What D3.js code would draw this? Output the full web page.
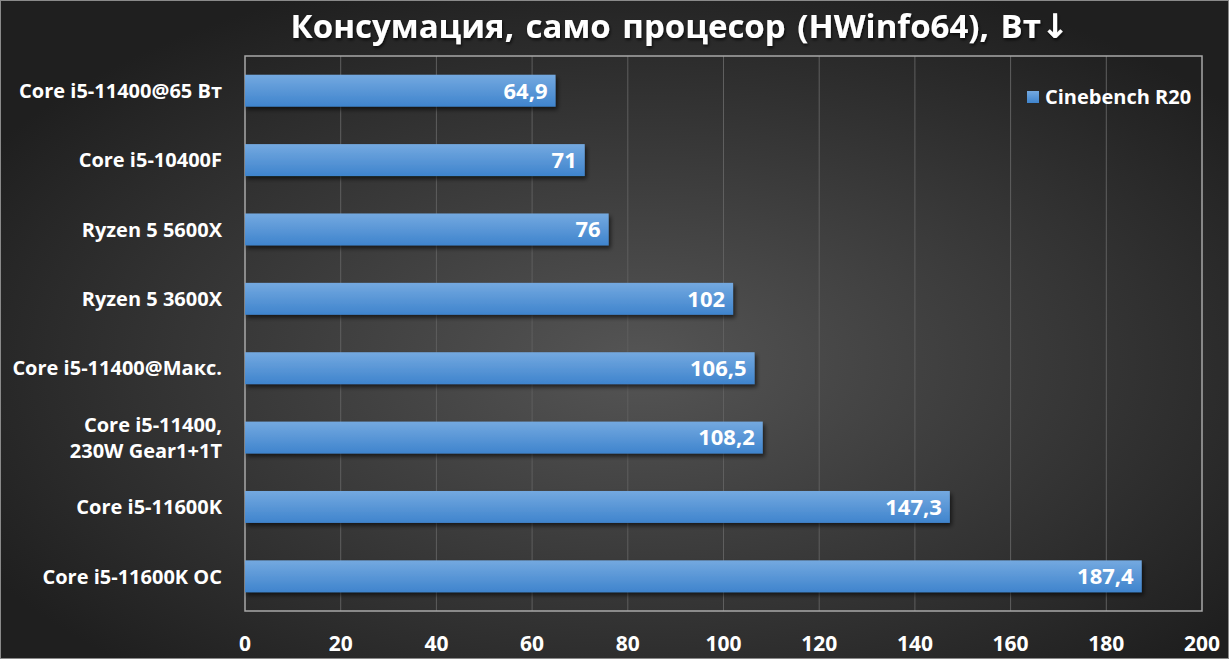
<!DOCTYPE html>
<html>
<head>
<meta charset="utf-8">
<script src="https://cdn.jsdelivr.net/npm/d3@7"></script>
<style>
  html, body { margin: 0; padding: 0; background: #2a2a2a; }
  text { font-family: "Open Sans", "Noto Sans", sans-serif; font-weight: 700; fill: #fff; }
</style>
</head>
<body>
<div id="chart"></div>
<script>
  // data
  const categories = [
    "Core i5-11400@65 Вт",
    "Core i5-10400F",
    "Ryzen 5 5600X",
    "Ryzen 5 3600X",
    "Core i5-11400@Макс.",
    "Core i5-11400,\n230W Gear1+1T",
    "Core i5-11600K",
    "Core i5-11600K OC"
  ];
  const values = [64.9, 71, 76, 102, 106.5, 108.2, 147.3, 187.4];
  const valueLabels = ["64,9", "71", "76", "102", "106,5", "108,2", "147,3", "187,4"];
  const xTicks = [0, 20, 40, 60, 80, 100, 120, 140, 160, 180, 200];
  const seriesName = "Cinebench R20";
  const title = "Консумация, само процесор (HWinfo64), Вт";

  const W = 1229, H = 659;
  const margin = {top: 56, right: 27, bottom: 48, left: 245},
      width = W - margin.left - margin.right,
      height = H - margin.top - margin.bottom;

  const svg = d3.select("#chart")
    .append("svg")
      .attr("width", W)
      .attr("height", H);

  const defs = svg.append("defs");

  // background: dark with lighter middle
  const bg = defs.append("radialGradient")
    .attr("id", "bg").attr("cx", "52%").attr("cy", "55%").attr("r", "62%");
  bg.append("stop").attr("offset", "0%").attr("stop-color", "#555555");
  bg.append("stop").attr("offset", "100%").attr("stop-color", "#1f1f1f");

  const barGrad = defs.append("linearGradient")
    .attr("id", "barGrad").attr("x1", 0).attr("y1", 0).attr("x2", 0).attr("y2", 1);
  barGrad.append("stop").attr("offset", "0%").attr("stop-color", "#74a9e0");
  barGrad.append("stop").attr("offset", "100%").attr("stop-color", "#3f84cd");

  const shadow = defs.append("filter").attr("id", "shadow")
    .attr("x", "-5%").attr("y", "-30%").attr("width", "115%").attr("height", "170%");
  shadow.append("feDropShadow")
    .attr("dx", 2).attr("dy", 3).attr("stdDeviation", 2)
    .attr("flood-color", "#000").attr("flood-opacity", 0.6);

  const tshadow = defs.append("filter").attr("id", "tshadow");
  tshadow.append("feDropShadow")
    .attr("dx", 1).attr("dy", 2).attr("stdDeviation", 1.5)
    .attr("flood-color", "#000").attr("flood-opacity", 0.7);

  svg.append("rect")
    .attr("width", W).attr("height", H)
    .attr("fill", "url(#bg)");
  svg.append("rect")
    .attr("x", 0.5).attr("y", 0.5).attr("width", W - 1).attr("height", H - 1)
    .attr("fill", "none").attr("stroke", "#8a8a8a").attr("stroke-width", 1);

  const g = svg.append("g")
    .attr("transform", `translate(${margin.left}, ${margin.top})`);

  const x = d3.scaleLinear()
    .domain([0, 200])
    .range([0, width]);

  const y = d3.scaleBand()
    .domain(categories)
    .range([0, height])
    .paddingInner(0.54)
    .paddingOuter(0.27);

  // gridlines
  g.selectAll(".grid")
    .data(xTicks.slice(1, -1))
    .join("line")
      .attr("x1", d => x(d)).attr("x2", d => x(d))
      .attr("y1", 0).attr("y2", height)
      .attr("stroke", "#5f5f5f").attr("stroke-width", 1);

  // plot frame
  g.append("rect")
    .attr("x", 0).attr("y", 0).attr("width", width).attr("height", height)
    .attr("fill", "none").attr("stroke", "#a8a8a8").attr("stroke-width", 1.5);

  // bars
  g.selectAll(".bar")
    .data(values)
    .join("rect")
      .attr("x", 0)
      .attr("y", (d, i) => y(categories[i]))
      .attr("width", d => x(d))
      .attr("height", y.bandwidth())
      .attr("fill", "url(#barGrad)")
      .attr("filter", "url(#shadow)");

  // value labels
  g.selectAll(".val")
    .data(values)
    .join("text")
      .attr("x", d => x(d) - 8)
      .attr("y", (d, i) => y(categories[i]) + y.bandwidth() / 2)
      .attr("dy", "0.36em")
      .attr("text-anchor", "end")
      .attr("font-size", 22)
      .text((d, i) => valueLabels[i]);

  // category labels
  const yAxis = g.append("g");
  categories.forEach(c => {
    const lines = c.split("\n");
    const cy = y(c) + y.bandwidth() / 2;
    const t = yAxis.append("text")
      .attr("x", -23)
      .attr("text-anchor", "end")
      .attr("font-size", 20);
    lines.forEach((ln, k) => {
      t.append("tspan")
        .attr("x", -23)
        .attr("y", cy + (k - (lines.length - 1) / 2) * 26)
        .attr("dy", "0.36em")
        .text(ln);
    });
  });

  // x axis labels
  g.selectAll(".xt")
    .data(xTicks)
    .join("text")
      .attr("x", d => x(d))
      .attr("y", height + 40)
      .attr("text-anchor", "middle")
      .attr("font-size", 21)
      .text(d => d);

  // legend
  const legend = svg.append("g").attr("transform", "translate(1027, 97)");
  legend.append("rect")
    .attr("x", 0).attr("y", -6).attr("width", 12).attr("height", 12)
    .attr("fill", "url(#barGrad)");
  legend.append("text")
    .attr("x", 18).attr("dy", "0.36em")
    .attr("font-size", 20)
    .text(seriesName);

  // title
  const tt = svg.append("text")
    .attr("x", 680)
    .attr("y", 38)
    .attr("text-anchor", "middle")
    .attr("font-size", 33)
    .attr("word-spacing", 3)
    .attr("filter", "url(#tshadow)");
  tt.append("tspan").text(title);
  tt.append("tspan")
    .attr("font-family", "DejaVu Sans")
    .attr("font-size", 34)
    .text("↓");
</script>
</body>
</html>
